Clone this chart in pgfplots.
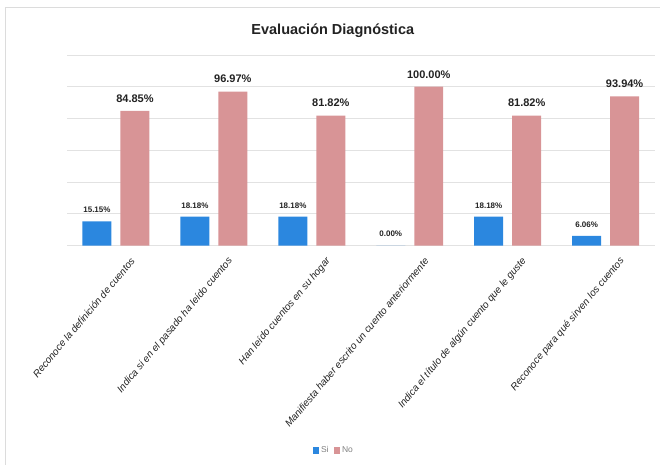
\documentclass[border=0pt]{standalone}
\usepackage{pgfplots}
\pgfplotsset{compat=1.18}
\usepackage{fontspec}
\setmainfont{Liberation Sans}

\definecolor{siblue}{RGB}{43,135,223}
\definecolor{nopink}{RGB}{216,148,150}
\definecolor{gridgray}{RGB}{226,226,226}
\definecolor{framegray}{RGB}{220,220,220}
\definecolor{labeltext}{RGB}{34,34,34}

\begin{document}
\begin{tikzpicture}
  % page area and light frame
  \path (0pt,0pt) rectangle (660pt,465pt);
  \draw[framegray,line width=0.8pt] (5pt,0pt) -- (5pt,458pt) -- (660pt,458pt);

  \begin{axis}[
    at={(67pt,219.3pt)}, anchor=south west,
    scale only axis, width=588pt, height=190.7pt,
    ybar, bar width=29pt,
    xmin=-0.5, xmax=5.5, ymin=0, ymax=120,
    xtick={0,1,2,3,4,5},
    xticklabels={
      Reconoce la definición de cuentos,
      Indica si en el pasado ha leído cuentos,
      Han leído cuentos en su hogar,
      Manifiesta haber escrito un cuento anteriormente,
      Indica el título de algún cuento que le guste,
      Reconoce para qué sirven los cuentos},
    xticklabel style={font=\fontsize{10}{11}\selectfont\itshape, text=labeltext,
      anchor=east, xshift=19pt, yshift=-11pt, rotate=50},
    ytick={0,20,...,120}, yticklabels={},
    ymajorgrids, grid style={gridgray, line width=0.8pt},
    axis line style={draw=none}, major tick length=0pt,
    tick style={draw=none},
    /pgf/number format/assume math mode=true,
    legend style={at={(0.454,-1.075)}, anchor=center, draw=none, fill=none,
      legend columns=2, font=\fontsize{8.5}{9}\selectfont\color{gray},
      /tikz/every even column/.append style={column sep=3pt}},
    legend image code/.code={\fill[#1,draw=none] (0pt,-3.2pt) rectangle (6.5pt,3.2pt);},
    nodes near coords={\pgfmathprintnumber[fixed,fixed zerofill,precision=2]{\pgfplotspointmeta}\%},
    nodes near coords align={vertical},
  ]
    \addplot[fill=siblue, draw=none, bar shift=-19pt,
      nodes near coords style={font=\fontsize{8}{9}\selectfont\bfseries, text=labeltext, yshift=5pt}]
      coordinates {(0,15.15) (1,18.18) (2,18.18) (3,0.00) (4,18.18) (5,6.06)};
    \addlegendentry{Si}
    \addplot[fill=nopink, draw=none, bar shift=19pt,
      nodes near coords style={font=\fontsize{11}{12}\selectfont\bfseries, text=labeltext, yshift=5pt}]
      coordinates {(0,84.85) (1,96.97) (2,81.82) (3,100.00) (4,81.82) (5,93.94)};
    \addlegendentry{No}
  \end{axis}

  \node[font=\fontsize{14.5}{16}\selectfont\bfseries, text=labeltext] at (333pt,434pt) {Evaluación Diagnóstica};
\end{tikzpicture}
\end{document}
